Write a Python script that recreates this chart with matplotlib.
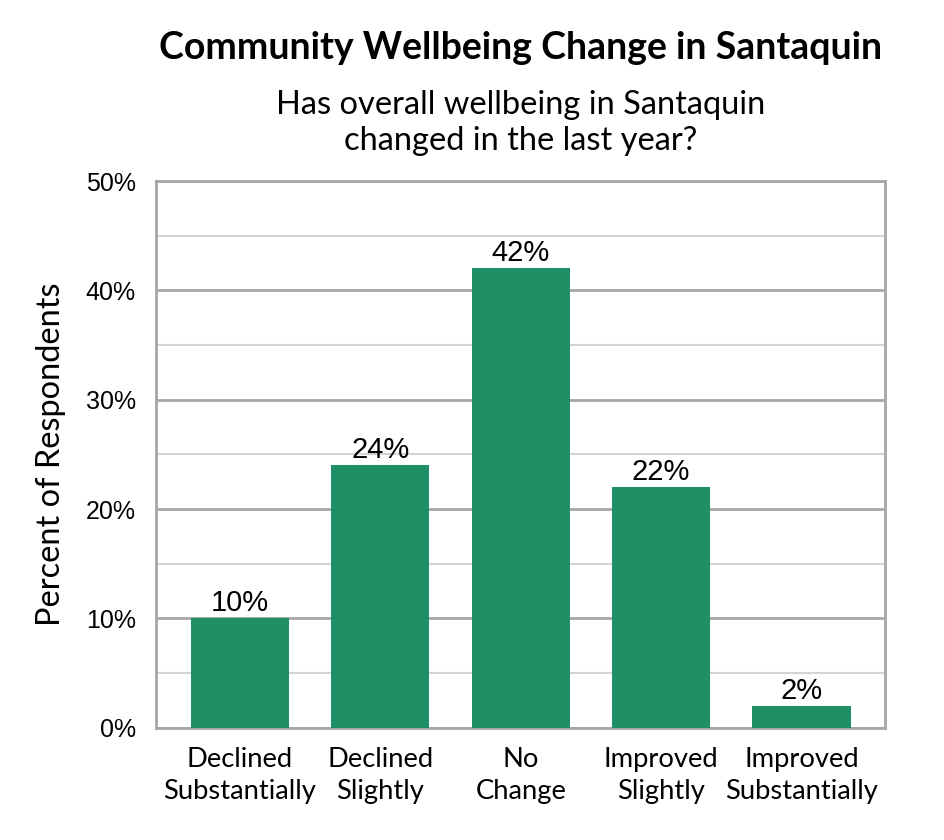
import matplotlib
matplotlib.use("Agg")
import matplotlib.pyplot as plt
from matplotlib.ticker import MultipleLocator, FuncFormatter

categories = ["Declined\nSubstantially", "Declined\nSlightly", "No\nChange",
              "Improved\nSlightly", "Improved\nSubstantially"]
percents = [10, 24, 42, 22, 2]
yticks = [0, 10, 20, 30, 40, 50]

title = "Community Wellbeing Change in Santaquin"
subtitle = "Has overall wellbeing in Santaquin\nchanged in the last year?"
ylabel = "Percent of Respondents"

bar_color = "#1f9065"
major_grid = "#a6a6a6"
minor_grid = "#d4d4d4"

calibri_like = ["Lato", "DejaVu Sans"]
arial_like = ["Liberation Sans", "DejaVu Sans"]

fig = plt.figure(figsize=(9.45, 8.4), dpi=100)
ax = fig.add_axes([0.1656, 0.1337, 0.7709, 0.6508])

x = list(range(len(categories)))
bars = ax.bar(x, percents, width=0.70, color=bar_color, zorder=3)

for xi, v in zip(x, percents):
    ax.text(xi, v + 0.1, f"{v}%", ha="center", va="bottom",
            fontsize=21, family=arial_like, color="black", zorder=4)

ax.set_xlim(-0.594, 4.594)
ax.set_ylim(0, 50)
ax.set_yticks(yticks)
ax.yaxis.set_minor_locator(MultipleLocator(5))
ax.yaxis.set_major_formatter(FuncFormatter(lambda v, p: f"{v:.0f}%"))
ax.grid(axis="y", which="major", color=major_grid, linewidth=2.0, zorder=0)
ax.grid(axis="y", which="minor", color=minor_grid, linewidth=1.5, zorder=0)

ax.set_xticks(x)
ax.set_xticklabels(categories, family=calibri_like, fontsize=19.7,
                   linespacing=1.35)
ax.tick_params(axis="x", length=0, pad=14)
ax.tick_params(axis="y", which="both", length=0, pad=15)
for lbl in ax.get_yticklabels():
    lbl.set_family(arial_like)
    lbl.set_fontsize(18)

for s in ax.spines.values():
    s.set_color(major_grid)
    s.set_linewidth(2.0)

ax.set_ylabel(ylabel, family=calibri_like, fontsize=23.4, labelpad=14)

fig.text(0.551, 0.943, title, ha="center", va="center",
         fontsize=27, fontweight="bold", family=calibri_like)
fig.text(0.551, 0.853, subtitle, ha="center", va="center",
         fontsize=23.5, family=calibri_like, linespacing=1.25)

fig.savefig("out.png", dpi=100)
